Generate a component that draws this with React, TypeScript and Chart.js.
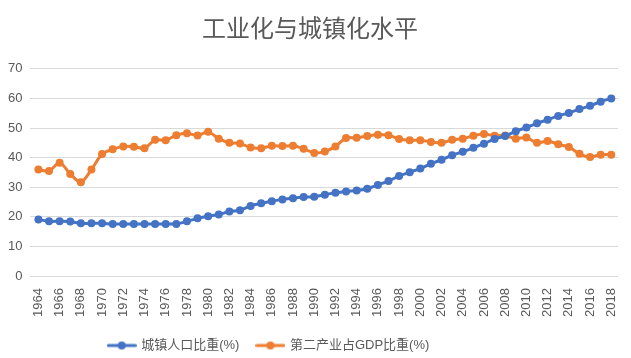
import React, { useEffect, useRef } from "react";
import { Chart, registerables } from "chart.js";

Chart.register(...registerables);

const years: number[] = [];
for (let y = 1964; y <= 2018; y++) years.push(y);

const tickYears = years.filter((y) => y % 2 === 0);

const urbanShare = [
  19.1, 18.5, 18.5, 18.4, 17.8, 17.8, 17.8, 17.6, 17.6, 17.6,
  17.6, 17.6, 17.6, 17.6, 18.5, 19.5, 20.2, 20.8, 21.8, 22.2,
  23.7, 24.6, 25.3, 25.9, 26.3, 26.7, 26.8, 27.5, 28.1, 28.6,
  28.9, 29.5, 30.8, 32.1, 33.8, 35.1, 36.3, 37.9, 39.3, 40.8,
  42.0, 43.3, 44.7, 46.3, 47.3, 48.9, 50.2, 51.6, 52.8, 54.1,
  55.1, 56.4, 57.5, 58.9, 60.0,
];

const industryShare = [
  36.0, 35.5, 38.3, 34.5, 31.7, 36.0, 41.2, 42.8, 43.8, 43.7,
  43.2, 46.0, 45.9, 47.6, 48.2, 47.5, 48.7, 46.4, 45.0, 44.8,
  43.4, 43.2, 44.0, 43.9, 44.0, 43.0, 41.6, 42.1, 43.8, 46.6,
  46.7, 47.3, 47.7, 47.6, 46.3, 45.9, 45.9, 45.3, 45.0, 46.0,
  46.4, 47.4, 48.0, 47.4, 47.5, 46.4, 46.8, 45.0, 45.6, 44.5,
  43.6, 41.3, 40.2, 41.0, 41.0,
];

const seriesNames = ["城镇人口比重(%)", "第二产业占GDP比重(%)"];
const seriesColors = ["#4472C4", "#ED7D31"];
const titleText = "工业化与城镇化水平";

function legendIcon(color: string): HTMLCanvasElement {
  const c = document.createElement("canvas");
  c.width = 30;
  c.height = 10;
  const ctx = c.getContext("2d")!;
  ctx.strokeStyle = color;
  ctx.lineWidth = 3;
  ctx.lineCap = "round";
  ctx.beginPath();
  ctx.moveTo(1.5, 5);
  ctx.lineTo(28.5, 5);
  ctx.stroke();
  ctx.fillStyle = color;
  ctx.beginPath();
  ctx.arc(15, 5, 4, 0, Math.PI * 2);
  ctx.fill();
  return c;
}

const legendShift = {
  id: "legendShift",
  afterLayout(chart: any) {
    const lg = chart.legend;
    if (lg) {
      lg.left -= 41;
      lg.right -= 41;
    }
  },
};

export default function App() {
  const ref = useRef<HTMLCanvasElement | null>(null);
  useEffect(() => {
    document.body.style.margin = "0";
    const font = "'Liberation Sans', 'Noto Sans CJK SC', sans-serif";
    const icons = seriesColors.map(legendIcon);
    const mk = (vals: number[], i: number) => ({
      label: seriesNames[i],
      data: years.map((y, k) => ({ x: y, y: vals[k] })),
      borderColor: seriesColors[i],
      backgroundColor: seriesColors[i],
      borderWidth: 3,
      pointRadius: 4,
      pointHoverRadius: 4,
      pointBorderWidth: 0,
      tension: 0.3,
    });
    const chart = new Chart(ref.current!, {
      type: "line",
      data: {
        datasets: [mk(urbanShare, 0), mk(industryShare, 1)],
      },
      plugins: [legendShift],
      options: {
        animation: false,
        responsive: false,
        devicePixelRatio: 1,
        layout: { padding: { left: 0, right: 11, top: 0, bottom: -4 } },
        plugins: {
          tooltip: { enabled: false },
          title: {
            display: true,
            text: titleText,
            color: "#595959",
            font: { family: font, size: 24, weight: "normal" },
            padding: { top: 16, bottom: 24 },
          },
          legend: {
            position: "bottom",
            labels: {
              usePointStyle: true,
              pointStyleWidth: 26,
              color: "#595959",
              font: { family: font, size: 13 },
              padding: 18,
              generateLabels: (ch: any) =>
                ch.data.datasets.map((ds: any, i: number) => ({
                  text: ds.label,
                  fillStyle: seriesColors[i],
                  strokeStyle: seriesColors[i],
                  lineWidth: 0,
                  pointStyle: icons[i],
                  datasetIndex: i,
                  hidden: false,
                  fontColor: "#595959",
                })),
            },
          },
        },
        scales: {
          x: {
            type: "linear",
            min: 1963.25,
            max: 2018.65,
            grid: { display: false },
            border: { display: false },
            afterBuildTicks: (axis: any) => {
              axis.ticks = tickYears.map((v) => ({ value: v }));
            },
            ticks: {
              autoSkip: false,
              minRotation: 90,
              maxRotation: 90,
              padding: 4,
              color: "#595959",
              font: { family: font, size: 13 },
              callback: (v: any) => String(v),
            },
          },
          y: {
            min: 0,
            max: 70,
            border: { display: false },
            grid: { color: "#d9d9d9", drawTicks: false, lineWidth: 1 },
            ticks: {
              stepSize: 10,
              padding: 8,
              color: "#595959",
              font: { family: font, size: 13 },
            },
          },
        },
      },
    } as any);
    return () => chart.destroy();
  }, []);
  return (
    <div style={{ width: 631, height: 358, position: "relative" }}>
      <canvas ref={ref} width={631} height={358} />
    </div>
  );
}
